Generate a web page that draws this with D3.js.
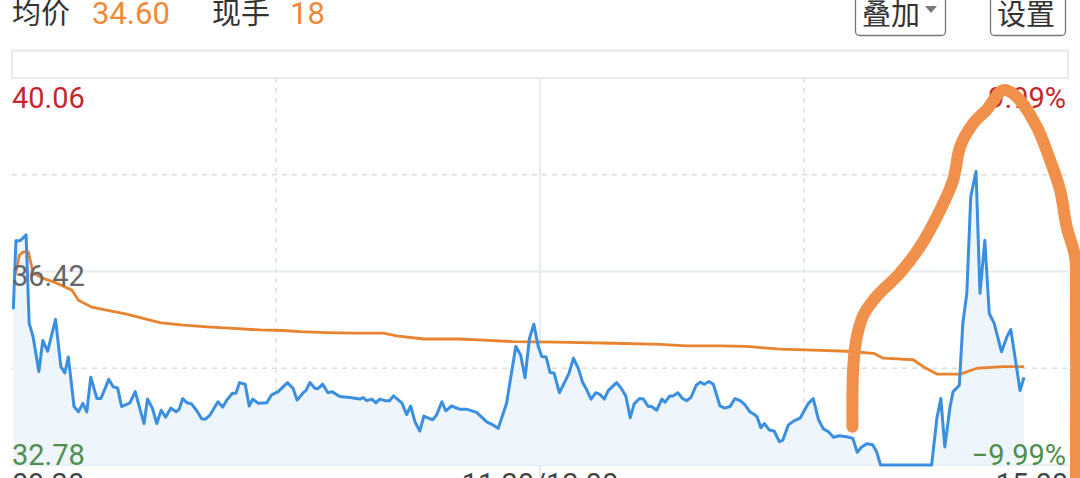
<!DOCTYPE html>
<html>
<head>
<meta charset="utf-8">
<script src="https://cdn.jsdelivr.net/npm/d3@7"></script>
<style>
  html, body { margin: 0; padding: 0; background: #ffffff; overflow: hidden; }
  svg { display: block; }
</style>
</head>
<body>
<svg id="chart" width="1080" height="478"></svg>
<script>
// ---------------- data ----------------
const prevClose = 36.42;
const priceTicks = [40.06, 38.24, 36.42, 34.60, 32.78];
const timeTicks = [0, 60, 120, 180, 240];          // trading minutes from 09:30
const timeLabels = ["09:30", "11:30/13:00", "15:00"];
const headerAvg = "34.60";
const headerVol = "18";

// price line: minute offsets and prices
const priceT = [0.3,0.9,1.8,2.4,3.2,3.9,4.8,6.1,7.0,8.1,9.9,11.1,12.0,12.8,14.1,15.1,16.1,17.0,17.9,19.3,
  20.2,22.0,23.0,24.0,24.9,26.8,28.0,30.0,30.8,31.9,32.9,33.9,34.9,36.1,37.3,38.0,38.8,39.8,40.8,42.0,
  43.1,43.9,45.0,46.8,47.9,48.8,50.1,50.9,51.7,53.0,53.9,54.7,56.0,57.9,59.0,60.5,62.6,63.9,64.8,66.2,
  66.8,67.7,68.9,69.6,70.6,71.8,72.7,74.5,76.8,79.1,79.8,80.6,81.8,82.7,83.6,84.8,85.8,86.7,88.6,89.7,
  90.6,91.6,92.7,93.6,95.6,96.5,97.7,98.6,99.9,101.7,103.3,105.6,107.9,109.4,110.5,112.4,114.5,115.6,116.6,117.6,
  118.6,119.6,120.4,121.4,122.3,123.2,124.4,125.5,126.6,127.6,128.7,129.7,130.6,131.6,132.7,133.6,134.6,135.5,137.4,138.4,
  139.5,140.5,141.4,142.6,143.5,144.6,145.4,146.5,147.7,148.4,149.5,150.3,151.3,152.4,153.3,154.3,155.5,156.4,157.3,158.4,
  159.4,160.9,162.0,163.2,164.3,165.5,166.6,167.7,168.7,169.3,170.2,171.0,172.1,173.2,174.4,175.2,176.4,177.7,179.1,181.0,
  182.1,183.3,184.4,185.5,186.7,188.0,189.7,191.1,192.1,193.1,194.3,195.6,196.5,197.4,209.0,210.2,211.1,212.0,213.2,213.9,
  215.3,216.1,217.0,217.9,219.1,220.0,221.1,222.1,223.2,224.9,226.1,227.0,228.0,229.1,230.0];
const priceV = [35.71,37.00,37.00,37.04,37.11,35.45,35.19,34.54,35.12,34.92,35.52,34.63,34.51,34.81,33.88,33.78,33.94,33.78,34.43,34.03,
  34.03,34.39,34.25,34.23,33.88,33.95,34.16,33.56,34.02,33.85,33.56,33.81,33.68,33.85,33.78,33.83,34.03,33.95,33.93,33.80,
  33.65,33.64,33.72,33.97,33.87,34.00,34.13,34.13,34.33,34.30,33.89,34.02,33.94,33.95,34.10,34.16,34.33,34.22,34.00,34.14,
  34.18,34.33,34.22,34.22,34.30,34.14,34.16,34.07,34.05,34.02,34.05,33.99,34.02,33.95,34.02,33.99,33.99,34.08,33.95,33.73,
  33.89,33.59,33.42,33.70,33.63,33.72,33.97,33.80,33.89,33.83,33.83,33.77,33.59,33.53,33.47,33.94,35.01,34.85,34.42,35.16,
  35.43,35.01,34.82,34.81,34.52,34.51,34.14,34.32,34.51,34.79,34.60,34.33,34.20,34.02,34.14,34.11,34.02,34.18,34.33,34.23,
  34.08,33.67,33.93,34.03,34.02,33.88,33.88,33.81,34.02,33.96,34.08,34.08,34.14,34.03,33.99,34.05,34.28,34.34,34.30,34.35,
  34.30,33.89,33.85,33.88,34.03,33.99,33.91,33.78,33.73,33.69,33.48,33.56,33.44,33.42,33.22,33.25,33.53,33.61,33.66,33.94,
  34.03,33.63,33.46,33.41,33.30,33.33,33.31,33.28,33.02,33.12,33.18,33.16,33.03,32.78,32.78,33.66,34.03,33.12,33.88,34.16,
  34.28,35.45,36.01,37.83,38.30,36.01,37.01,35.63,35.45,34.91,35.19,35.33,34.79,34.18,34.43];

// average price line
const avgT = [0.7,1.7,2.6,3.7,4.8,7.1,10.2,13.6,15.1,18.1,22.3,26.1,29.8,33.6,38.9,44.3,50.3,56.4,61.7,65.5,
  71.5,77.6,84.4,87.4,93.5,101.8,109.4,113.9,123.8,136.7,147.3,153.3,160.9,167.0,174.5,182.1,189.7,195.8,198.0,204.8,
  207.1,210.2,215.5,219.3,225.3,230.0];
const avgV = [36.35,36.73,36.79,36.79,36.39,36.29,36.20,36.07,35.88,35.75,35.68,35.62,35.54,35.46,35.41,35.38,35.35,35.32,35.31,35.29,
  35.27,35.26,35.26,35.21,35.15,35.15,35.12,35.10,35.09,35.07,35.05,35.02,35.02,35.01,34.96,34.94,34.92,34.88,34.79,34.76,
  34.63,34.49,34.49,34.60,34.63,34.63];

// hand-drawn marker stroke over the chart (in minute / price units)
const markT = [191.0,191.2,192.0,193.5,196.5,201.8,206.4,210.2,213.9,215.5,218.5,221.5,225.3,228.3,232.9,235.9,238.2,239.7,241.6,241.8,241.8];
const markV = [33.50,34.63,35.19,35.60,35.95,36.39,36.89,37.45,38.14,38.77,39.21,39.46,39.83,39.71,39.14,38.52,37.95,37.26,36.70,36.20,32.50];

// ---------------- drawing ----------------
const svg = d3.select("#chart");
const W = 1080, H = 478;
const plot = { left: 12, right: 1068, top: 78, bottom: 465 };

const x = d3.scaleLinear().domain([0, 240]).range([plot.left, plot.right]);
const y = d3.scaleLinear().domain([32.78, 40.06]).range([plot.bottom, plot.top]);

const numFont = "Roboto, 'Noto Sans', sans-serif";
const cjkFont = "'Noto Sans CJK SC', 'Noto Sans', sans-serif";
const orangeText = "#ef8a3a";

// header
const hdr = svg.append("g");
hdr.append("text").attr("x", 12).attr("y", 24).attr("font-family", cjkFont).attr("font-size", 29)
  .attr("fill", "#333").text("均价");
hdr.append("text").attr("x", 92).attr("y", 24).attr("font-family", numFont).attr("font-size", 31)
  .attr("fill", orangeText).text(headerAvg);
hdr.append("text").attr("x", 212).attr("y", 24).attr("font-family", cjkFont).attr("font-size", 29)
  .attr("fill", "#333").text("现手");
hdr.append("text").attr("x", 290).attr("y", 24).attr("font-family", numFont).attr("font-size", 31)
  .attr("fill", orangeText).text(headerVol);

// buttons
function button(x0, x1, label, arrow) {
  const g = svg.append("g");
  g.append("rect").attr("x", x0 + 0.5).attr("y", -10).attr("width", x1 - x0).attr("height", 45.5)
    .attr("rx", 4).attr("fill", "#fff").attr("stroke", "#777").attr("stroke-width", 1.3);
  g.append("text").attr("x", x0 + 7).attr("y", 25).attr("font-family", cjkFont).attr("font-size", 29)
    .attr("fill", "#333").text(label);
  if (arrow) {
    g.append("path").attr("d", `M${x1 - 20},6 L${x1 - 8},6 L${x1 - 14},13 Z`).attr("fill", "#777");
  }
}
button(855, 945, "叠加", true);
button(990, 1065, "设置", false);

// top empty band box
svg.append("rect").attr("x", plot.left).attr("y", 50.5).attr("width", plot.right - plot.left)
  .attr("height", plot.top - 50.5).attr("fill", "none").attr("stroke", "#e4eaed").attr("stroke-width", 2);

// grid
const grid = svg.append("g");
priceTicks.forEach((p, i) => {
  const solid = (i % 2 === 0);
  grid.append("line").attr("x1", plot.left).attr("x2", plot.right)
    .attr("y1", y(p)).attr("y2", y(p))
    .attr("stroke", solid ? "#e6ecef" : "#dcdcdc").attr("stroke-width", solid ? 2 : 1.3)
    .attr("stroke-dasharray", solid ? null : "5,5");
});
timeTicks.slice(1, -1).forEach((t) => {
  const solid = (t === 120);
  grid.append("line").attr("x1", x(t)).attr("x2", x(t))
    .attr("y1", plot.top).attr("y2", solid ? H : plot.bottom)
    .attr("stroke", solid ? "#e6ecef" : "#dcdcdc").attr("stroke-width", solid ? 2 : 1.3)
    .attr("stroke-dasharray", solid ? null : "5,5");
});

// series
const priceData = priceT.map((t, i) => ({ t, v: priceV[i] }));
const avgData = avgT.map((t, i) => ({ t, v: avgV[i] }));
const markData = markT.map((t, i) => ({ t, v: markV[i] }));

svg.append("path").datum(priceData)
  .attr("d", d3.area().x(d => x(d.t)).y0(plot.bottom).y1(d => y(d.v)))
  .attr("fill", "#eef5fc");

svg.append("path").datum(avgData)
  .attr("d", d3.line().x(d => x(d.t)).y(d => y(d.v)))
  .attr("fill", "none").attr("stroke", "#e8832f").attr("stroke-width", 2.8).attr("stroke-linejoin", "round");

svg.append("path").datum(priceData)
  .attr("d", d3.line().x(d => x(d.t)).y(d => y(d.v)))
  .attr("fill", "none").attr("stroke", "#3a8fe0").attr("stroke-width", 3).attr("stroke-linejoin", "round");

// axis labels
const pct = p => ((p - prevClose) / prevClose * 100);
const lab = svg.append("g").attr("font-family", numFont).attr("font-size", 29);
lab.append("text").attr("x", 12).attr("y", y(priceTicks[0]) + 30).attr("fill", "#c4282e").text(priceTicks[0].toFixed(2));
lab.append("text").attr("x", 12).attr("y", y(priceTicks[2]) + 14).attr("fill", "#666").text(priceTicks[2].toFixed(2));
lab.append("text").attr("x", 12).attr("y", y(priceTicks[4])).attr("fill", "#4e8f4b").text(priceTicks[4].toFixed(2));
lab.append("text").attr("x", 1066).attr("y", y(priceTicks[0]) + 30).attr("text-anchor", "end").attr("fill", "#c4282e")
  .text(pct(priceTicks[0]).toFixed(2) + "%");
lab.append("text").attr("x", 1066).attr("y", y(priceTicks[4])).attr("text-anchor", "end").attr("fill", "#4e8f4b")
  .text("\u2212" + Math.abs(pct(priceTicks[4])).toFixed(2) + "%");

// time labels (mostly below the window, as in the reference)
lab.append("text").attr("x", x(0)).attr("y", 494).attr("fill", "#444").text(timeLabels[0]);
lab.append("text").attr("x", x(120)).attr("y", 494).attr("text-anchor", "middle").attr("fill", "#444").text(timeLabels[1]);
lab.append("text").attr("x", x(240)).attr("y", 494).attr("text-anchor", "end").attr("fill", "#444").text(timeLabels[2]);

// small red icon at bottom
svg.append("circle").attr("cx", 980).attr("cy", 490).attr("r", 12).attr("fill", "#e23a3a");

// hand-drawn marker
svg.append("path").datum(markData)
  .attr("d", d3.line().curve(d3.curveCatmullRom.alpha(0.5)).x(d => x(d.t)).y(d => y(d.v)))
  .attr("fill", "none").attr("stroke", "#f0904a").attr("stroke-width", 12)
  .attr("stroke-linecap", "round").attr("stroke-linejoin", "round");
</script>
</body>
</html>
